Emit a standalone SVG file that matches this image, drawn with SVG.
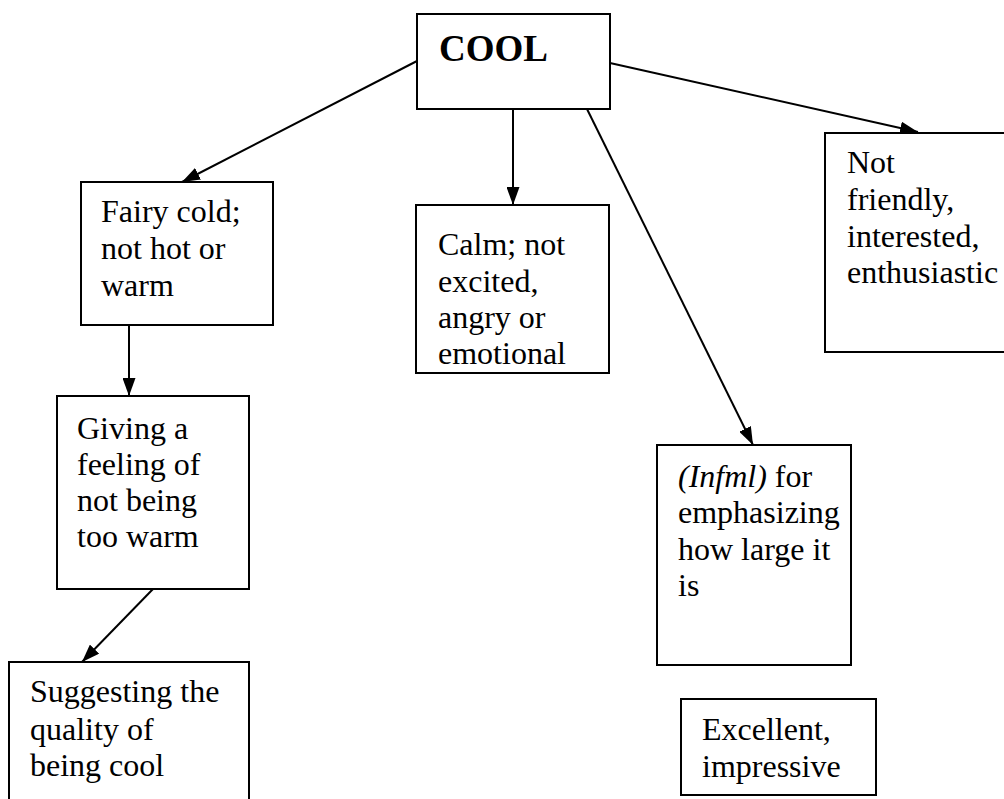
<svg xmlns="http://www.w3.org/2000/svg" width="1004" height="799" viewBox="0 0 1004 799">
  <style>
    .box { fill: #ffffff; stroke: #000000; stroke-width: 2; }
    .lbl { font-family: "Liberation Serif", "Times New Roman", serif; font-size: 32px; fill: #000000; }
    .title { font-family: "Liberation Serif", "Times New Roman", serif; font-size: 37px; font-weight: bold; fill: #000000; }
    .edge { stroke: #000000; stroke-width: 2; fill: none; marker-end: url(#arrow); }
  </style>
  <defs>
    <marker id="arrow" viewBox="0 0 18 13" refX="18" refY="6.5" markerWidth="18" markerHeight="13" markerUnits="userSpaceOnUse" orient="auto">
      <path d="M0,0 L18,6.5 L0,13 Z" fill="#000000"/>
    </marker>
  </defs>
  <rect width="1004" height="799" fill="#ffffff"/>

  <g id="connectors">
    <line class="edge" x1="417" y1="61" x2="182" y2="182"/>
    <line class="edge" x1="513" y1="109" x2="513" y2="205"/>
    <line class="edge" x1="587" y1="109" x2="753" y2="445"/>
    <line class="edge" x1="610" y1="63" x2="918" y2="132"/>
    <line class="edge" x1="129" y1="325" x2="129" y2="396"/>
    <line class="edge" x1="153" y1="589" x2="82" y2="662"/>
  </g>

  <g id="cool">
    <rect class="box" x="417" y="14" width="193" height="95"/>
    <text class="title" x="439" y="61">COOL</text>
  </g>

  <g id="fairy-cold">
    <rect class="box" x="81" y="182" width="192" height="143"/>
    <text class="lbl"><tspan x="101" y="222">Fairy cold;</tspan><tspan x="101" y="259">not hot or</tspan><tspan x="101" y="296">warm</tspan></text>
  </g>

  <g id="calm">
    <rect class="box" x="416" y="205" width="193" height="168"/>
    <text class="lbl"><tspan x="438" y="255">Calm; not</tspan><tspan x="438" y="292">excited,</tspan><tspan x="438" y="328">angry or</tspan><tspan x="438" y="364">emotional</tspan></text>
  </g>

  <g id="not-friendly">
    <rect class="box" x="825" y="133" width="190" height="219"/>
    <text class="lbl"><tspan x="847" y="173">Not</tspan><tspan x="847" y="210">friendly,</tspan><tspan x="847" y="247">interested,</tspan><tspan x="847" y="283">enthusiastic</tspan></text>
  </g>

  <g id="giving">
    <rect class="box" x="57" y="396" width="192" height="193"/>
    <text class="lbl"><tspan x="77" y="439">Giving a</tspan><tspan x="77" y="475">feeling of</tspan><tspan x="77" y="511">not being</tspan><tspan x="77" y="547">too warm</tspan></text>
  </g>

  <g id="infml">
    <rect class="box" x="657" y="445" width="194" height="220"/>
    <text class="lbl"><tspan x="678" y="487" font-style="italic">(Infml)</tspan><tspan> for</tspan><tspan x="678" y="523">emphasizing</tspan><tspan x="678" y="560">how large it</tspan><tspan x="678" y="596">is</tspan></text>
  </g>

  <g id="suggesting">
    <rect class="box" x="9" y="662" width="240" height="150"/>
    <text class="lbl"><tspan x="30" y="702">Suggesting the</tspan><tspan x="30" y="740">quality of</tspan><tspan x="30" y="776">being cool</tspan></text>
  </g>

  <g id="excellent">
    <rect class="box" x="681" y="699" width="195" height="96"/>
    <text class="lbl"><tspan x="702" y="740">Excellent,</tspan><tspan x="702" y="777">impressive</tspan></text>
  </g>
</svg>
